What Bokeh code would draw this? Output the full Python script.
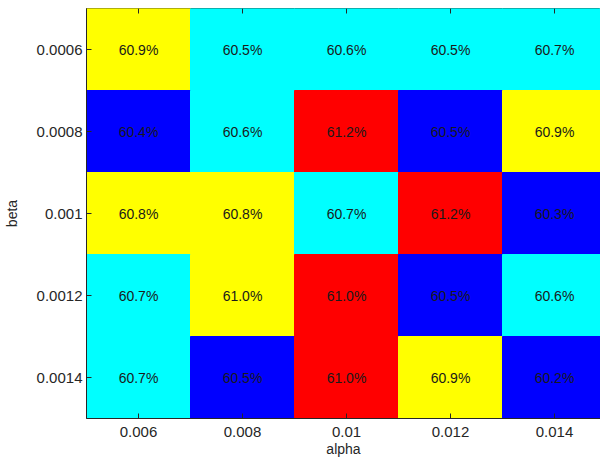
import math
from bokeh.plotting import figure
from bokeh.models import ColumnDataSource, Range1d, FixedTicker
from bokeh.embed import file_html
from bokeh.resources import INLINE
from bokeh.core.properties import value

alpha = [0.006, 0.008, 0.01, 0.012, 0.014]
beta = [0.0006, 0.0008, 0.001, 0.0012, 0.0014]
alpha_labels = ["0.006", "0.008", "0.01", "0.012", "0.014"]
beta_labels = ["0.0006", "0.0008", "0.001", "0.0012", "0.0014"]

# rows = beta (top to bottom), columns = alpha
accuracy = [
    [60.9, 60.5, 60.6, 60.5, 60.7],
    [60.4, 60.6, 61.2, 60.5, 60.9],
    [60.8, 60.8, 60.7, 61.2, 60.3],
    [60.7, 61.0, 61.0, 60.5, 60.6],
    [60.7, 60.5, 61.0, 60.9, 60.2],
]
# colour level of each cell (0 = blue, 1 = cyan, 2 = yellow, 3 = red)
level = [
    [2, 1, 1, 1, 1],
    [0, 1, 3, 0, 2],
    [2, 2, 1, 3, 0],
    [1, 2, 3, 0, 1],
    [1, 0, 3, 2, 0],
]
palette = ["#0000FF", "#00FFFF", "#FFFF00", "#FF0000"]

xs, ys, txt, cols = [], [], [], []
for i, b in enumerate(beta):
    for j, a in enumerate(alpha):
        xs.append(a)
        ys.append(b)
        txt.append(f"{accuracy[i][j]:.1f}%")
        cols.append(palette[level[i][j]])
src = ColumnDataSource(dict(x=xs, y=ys, t=txt, c=cols))

dx = alpha[1] - alpha[0]
dy = beta[1] - beta[0]
visible_cells = 514 / 104  # last column is cut by the right edge
x_start = alpha[0] - dx / 2
x_end = x_start + dx * visible_cells
y_top = beta[0] - dy / 2
y_bottom = beta[-1] + dy / 2

FONT = "Liberation Sans"
INK = "#262626"

p = figure(width=600, height=459, output_backend="svg", toolbar_location=None,
           x_range=Range1d(x_start, x_end),
           y_range=Range1d(y_bottom, y_top),
           min_border_left=86, min_border_right=0, min_border_top=8, min_border_bottom=0,
           x_axis_label="alpha", y_axis_label="beta")
p.rect(x="x", y="y", width=dx, height=dy, fill_color="c", line_color="c",
       line_width=1, source=src)
p.text(x="x", y="y", text="t", source=src, text_align="center", text_baseline="middle",
       text_font=value(FONT), text_font_size="14px", text_color="#1a1a1a")

# tick marks along the top edge of the box
p.ray(x=alpha, y=[y_top] * len(alpha), length=5, length_units="screen",
      angle=-math.pi / 2, line_color=INK, line_width=1)

p.grid.visible = False
p.outline_line_color = INK
p.outline_line_width = 1
p.background_fill_color = "white"
p.border_fill_color = "white"

p.xaxis.ticker = FixedTicker(ticks=alpha)
p.yaxis.ticker = FixedTicker(ticks=beta)
p.xaxis.major_label_overrides = {a: l for a, l in zip(alpha, alpha_labels)}
p.yaxis.major_label_overrides = {b: l for b, l in zip(beta, beta_labels)}
for ax in (p.xaxis[0], p.yaxis[0]):
    ax.major_tick_in = 5
    ax.major_tick_out = 0
    ax.minor_tick_line_color = None
    ax.axis_line_color = INK
    ax.major_tick_line_color = INK
    ax.major_label_text_font = FONT
    ax.major_label_text_font_size = "15px"
    ax.major_label_text_color = INK
    ax.axis_label_text_font = FONT
    ax.axis_label_text_font_size = "14px"
    ax.axis_label_text_font_style = "normal"
    ax.axis_label_text_color = INK
p.xaxis.major_label_standoff = 8
p.xaxis.axis_label_standoff = 1
p.yaxis.major_label_standoff = 4
p.yaxis.axis_label_standoff = 14

open("out.html", "w").write(file_html(p, INLINE))
